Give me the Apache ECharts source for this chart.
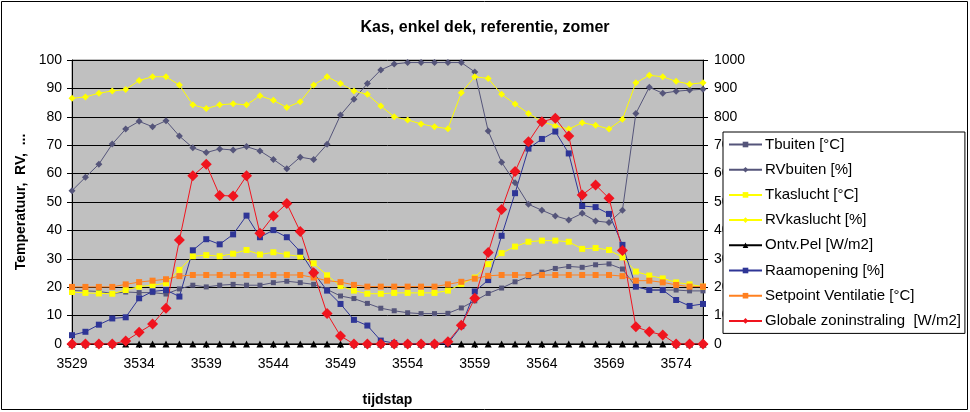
<!DOCTYPE html>
<html>
<head>
<meta charset="utf-8">
<script src="https://cdn.jsdelivr.net/npm/echarts@6/dist/echarts.min.js"></script>
<style>
  html, body { margin: 0; padding: 0; background: #fff; }
  #chart { width: 970px; height: 412px; }
</style>
</head>
<body>
<div id="chart"></div>
<script>
const tijdstap = [
  3529, 3530, 3531, 3532, 3533, 3534, 3535, 3536, 3537, 3538, 3539, 3540,
  3541, 3542, 3543, 3544, 3545, 3546, 3547, 3548, 3549, 3550, 3551, 3552,
  3553, 3554, 3555, 3556, 3557, 3558, 3559, 3560, 3561, 3562, 3563, 3564,
  3565, 3566, 3567, 3568, 3569, 3570, 3571, 3572, 3573, 3574, 3575, 3576,
];

const tbuiten = [
  18.8, 18.7, 18.5, 17.8, 18.3, 18.1, 18.1, 17.6, 19.4, 20.7, 20.1, 20.7,
  21.0, 20.7, 20.7, 21.6, 22.1, 21.6, 21.0, 19.2, 16.9, 16.0, 14.3, 12.6,
  11.7, 11.0, 10.7, 10.7, 10.8, 12.7, 15.2, 17.8, 19.7, 21.9, 23.7, 25.3,
  26.6, 27.3, 27.0, 27.9, 28.2, 26.4, 20.2, 19.0, 19.0, 19.0, 18.7, 18.7,
];

const rvBuiten = [
  54.0, 58.7, 63.3, 70.4, 75.7, 78.4, 76.5, 78.6, 73.2, 69.1, 67.4, 68.7,
  68.3, 69.5, 68.0, 65.0, 61.7, 65.8, 65.0, 70.3, 80.6, 86.2, 91.7, 96.5,
  98.6, 99.1, 99.1, 99.1, 99.1, 99.1, 95.8, 75.0, 64.0, 56.8, 49.2, 47.1,
  45.1, 43.7, 46.0, 43.3, 42.8, 47.1, 81.2, 90.4, 88.3, 89.0, 89.4, 89.7,
];

const tkaslucht = [
  18.3, 18.0, 17.8, 17.7, 19.0, 20.2, 20.7, 21.4, 26.1, 30.9, 31.3, 30.9,
  31.8, 33.1, 31.5, 32.3, 31.5, 30.8, 28.4, 24.2, 20.4, 18.8, 17.7, 17.7,
  18.0, 18.0, 18.0, 18.0, 18.8, 21.1, 23.4, 28.1, 32.0, 34.3, 36.0, 36.4,
  36.4, 36.0, 33.5, 33.8, 33.1, 30.5, 25.5, 24.1, 23.1, 21.7, 21.0, 20.2,
];

const rvKaslucht = [
  86.5, 87.0, 88.3, 89.1, 89.6, 92.8, 94.1, 94.1, 91.2, 84.2, 82.9, 84.2,
  84.6, 84.2, 87.4, 85.8, 83.3, 85.3, 91.2, 94.1, 91.7, 89.1, 87.9, 83.8,
  80.0, 78.9, 77.5, 76.5, 75.8, 88.5, 94.1, 93.5, 87.9, 84.5, 81.2, 78.3,
  76.8, 75.7, 77.9, 77.0, 75.7, 79.1, 92.0, 94.6, 94.1, 92.5, 91.5, 92.0,
];

const ontvPel = [
  0, 0, 0, 0, 0, 0, 0, 0, 0, 0, 0, 0,
  0, 0, 0, 0, 0, 0, 0, 0, 0, 0, 0, 0,
  0, 0, 0, 0, 0, 0, 0, 0, 0, 0, 0, 0,
  0, 0, 0, 0, 0, 0, 0, 0, 0, 0, 0, 0,
];

const raamopening = [
  3.1, 4.3, 6.8, 9.0, 9.4, 16.1, 18.5, 19.0, 16.7, 33.0, 36.9, 35.1,
  38.6, 45.2, 37.6, 40.1, 37.6, 32.5, 25.1, 18.8, 14.1, 8.5, 6.5, 1.2,
  0.3, 0, 0, 0, 0.2, 6.3, 18.5, 22.5, 38.1, 53.1, 68.8, 72.2,
  74.8, 67.1, 48.6, 48.2, 45.8, 34.9, 20.2, 19.0, 19.0, 15.5, 13.4, 14.1,
];

const setpointVentilatie = [
  20.1, 20.1, 20.1, 20.1, 21.0, 21.8, 22.3, 22.8, 23.9, 24.3, 24.3, 24.3,
  24.3, 24.3, 24.3, 24.3, 24.3, 24.3, 23.4, 22.3, 21.8, 20.8, 20.2, 20.2,
  20.2, 20.2, 20.2, 20.2, 21.0, 21.9, 23.0, 24.0, 24.3, 24.3, 24.3, 24.3,
  24.3, 24.3, 24.3, 24.3, 24.3, 23.9, 22.3, 22.3, 21.7, 20.8, 20.2, 20.2,
];

// W/m2, right axis
const zoninstraling = [
  0, 0, 0, 0, 11, 41, 70, 126, 366, 592, 633, 523,
  521, 592, 390, 451, 495, 396, 251, 107, 28, 0, 0, 0,
  0, 0, 0, 0, 8, 66, 161, 322, 474, 607, 712, 783,
  795, 732, 525, 560, 513, 329, 61, 43, 32, 0, 0, 0,
];

const leftTicks = { min: 0, max: 100, interval: 10 };
const rightTicks = { min: 0, max: 1000, interval: 100 };

const FONT = 'Arial, "Liberation Sans", sans-serif';

function lineSeries(name, data, color, symbol, symbolSize, yAxisIndex) {
  return {
    name,
    type: 'line',
    data,
    yAxisIndex: yAxisIndex || 0,
    symbol,
    symbolSize,
    showSymbol: true,
    showAllSymbol: true,
    lineStyle: { color, width: 1 },
    itemStyle: { color, borderWidth: 0 },
    emphasis: { disabled: true },
  };
}

const chart = echarts.init(document.getElementById('chart'), null, {
  renderer: 'canvas',
});

chart.setOption({
  animation: false,
  backgroundColor: '#ffffff',
  textStyle: { fontFamily: FONT },
  title: {
    text: 'Kas, enkel dek, referentie, zomer',
    left: 'center',
    top: 15,
    textStyle: {
      fontFamily: FONT,
      fontSize: 16,
      fontWeight: 'bold',
      color: '#000',
    },
  },
  graphic: [
    {
      type: 'rect',
      shape: { x: 1.5, y: 1.5, width: 966, height: 408 },
      style: { fill: 'none', stroke: '#000', lineWidth: 1 },
      z: 100,
      silent: true,
    },
  ],
  grid: {
    left: 72,
    right: 267,
    top: 60,
    bottom: 68,
    show: true,
    backgroundColor: '#c0c0c0',
    borderColor: '#808080',
    borderWidth: 1,
  },
  legend: {
    orient: 'vertical',
    left: 723,
    top: 132,
    z: 20,
    backgroundColor: '#ffffff',
    borderColor: '#000',
    borderWidth: 1,
    borderRadius: 0,
    padding: [5, 4, 5, 5],
    itemWidth: 33,
    itemHeight: 7,
    itemGap: 10.2,
    textStyle: {
      fontFamily: FONT,
      fontSize: 15,
      lineHeight: 14,
      color: '#000',
      padding: [0, 0, 0, -2],
    },
    data: [
      'Tbuiten [°C]',
      'RVbuiten [%]',
      'Tkaslucht [°C]',
      'RVkaslucht [%]',
      'Ontv.Pel [W/m2]',
      'Raamopening [%]',
      'Setpoint Ventilatie [°C]',
      'Globale zoninstraling  [W/m2]',
    ],
  },
  xAxis: {
    type: 'category',
    data: tijdstap,
    boundaryGap: false,
    name: 'tijdstap',
    nameLocation: 'middle',
    nameGap: 49,
    nameTextStyle: {
      fontFamily: FONT,
      fontSize: 14,
      fontWeight: 'bold',
      color: '#000',
    },
    axisLine: { lineStyle: { color: '#000', width: 1 } },
    axisTick: {
      show: true,
      interval: 4,
      length: 4,
      lineStyle: { color: '#000' },
    },
    axisLabel: {
      interval: 4,
      margin: 13,
      fontFamily: FONT,
      fontSize: 14,
      color: '#000',
    },
    splitLine: { show: false },
  },
  yAxis: [
    {
      type: 'value',
      position: 'left',
      min: leftTicks.min,
      max: leftTicks.max,
      interval: leftTicks.interval,
      name: 'Temperatuur,  RV,  ...',
      nameLocation: 'middle',
      nameGap: 44,
      nameTextStyle: {
        fontFamily: FONT,
        fontSize: 14,
        fontWeight: 'bold',
        color: '#000',
      },
      axisLine: { show: true, lineStyle: { color: '#000', width: 1 } },
      axisTick: { show: true, length: 5, lineStyle: { color: '#000' } },
      axisLabel: {
        margin: 10,
        fontFamily: FONT,
        fontSize: 14,
        color: '#000',
      },
      splitLine: { show: true, lineStyle: { color: '#000', width: 1 } },
    },
    {
      type: 'value',
      position: 'right',
      min: rightTicks.min,
      max: rightTicks.max,
      interval: rightTicks.interval,
      axisLine: { show: true, lineStyle: { color: '#000', width: 1 } },
      axisTick: { show: true, length: 5, lineStyle: { color: '#000' } },
      axisLabel: {
        margin: 11,
        fontFamily: FONT,
        fontSize: 14,
        color: '#000',
        formatter: (v) => String(v),
      },
      splitLine: { show: false },
    },
  ],
  series: [
    lineSeries('Tbuiten [°C]', tbuiten, '#55557a', 'rect', 5),
    lineSeries('RVbuiten [%]', rvBuiten, '#55557a', 'diamond', 7),
    lineSeries('Tkaslucht [°C]', tkaslucht, '#ffff00', 'rect', 6),
    lineSeries('RVkaslucht [%]', rvKaslucht, '#ffff00', 'diamond', 7),
    lineSeries('Ontv.Pel [W/m2]', ontvPel, '#000000', 'triangle', 7),
    lineSeries('Raamopening [%]', raamopening, '#2e3596', 'rect', 6),
    lineSeries('Setpoint Ventilatie [°C]', setpointVentilatie, '#ff8020', 'rect', 6),
    lineSeries('Globale zoninstraling  [W/m2]', zoninstraling, '#f0141e', 'diamond', 11, 1),
  ],
});
</script>
</body>
</html>
